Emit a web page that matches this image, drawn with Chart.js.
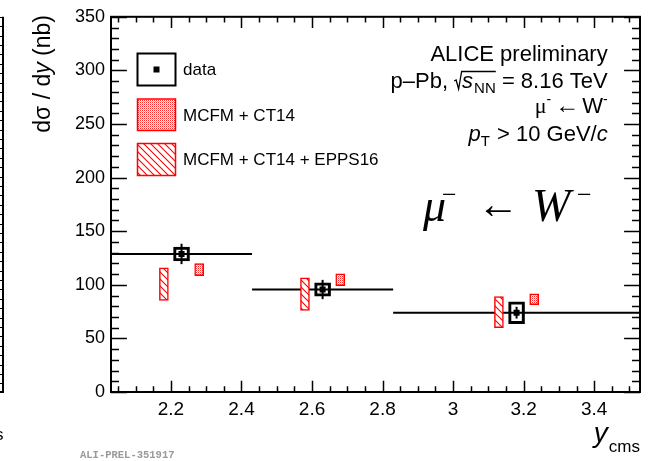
<!DOCTYPE html>
<html>
<head>
<meta charset="utf-8">
<title>W- to mu- production cross section vs rapidity</title>
<script src="https://cdn.jsdelivr.net/npm/chart.js@4.4.1/dist/chart.umd.min.js"></script>
<style>
  html, body { margin: 0; padding: 0; background: #ffffff; }
  #box { position: relative; width: 657px; height: 461px; }
</style>
</head>
<body>
<div id="box"><canvas id="chart"></canvas></div>
<script>
// Rapidity bins (y_cms) and measured dsigma/dy (nb)
const binLow  = [2.03, 2.43, 2.83];
const binHigh = [2.43, 2.83, 3.53];
const dataY    = [2.23, 2.63, 3.18];
const dataVal  = [128.8, 95.6, 74.0];
const dataStat = [9.5, 9.0, 5.5];
const dataSyst = [6.5, 6.2, 10.2];

// MCFM + CT14 prediction bands
const ct14Y    = [2.28, 2.68, 3.23];
const ct14Low  = [108.6, 99.3, 81.4];
const ct14High = [119.8, 110.2, 91.6];

// MCFM + CT14 + EPPS16 prediction bands
const eppsY    = [2.18, 2.58, 3.13];
const eppsLow  = [85.4, 76.1, 60.1];
const eppsHigh = [115.8, 106.5, 88.9];

// Axis ticks
const xTicks = [2.2, 2.4, 2.6, 2.8, 3.0, 3.2, 3.4];
const xTickLabels = ['2.2', '2.4', '2.6', '2.8', '3', '3.2', '3.4'];
const yTicks = [0, 50, 100, 150, 200, 250, 300, 350];
const yTickLabels = ['0', '50', '100', '150', '200', '250', '300', '350'];

const SANS = '"Liberation Sans", Arial, Helvetica, sans-serif';
const SERIF = '"Liberation Serif", "Times New Roman", serif';
const RED = '#ff0000';

const canvas = document.getElementById('chart');
const c2d = canvas.getContext('2d');

// Fill patterns: diagonal hatch and fine checker
function makeHatch() {
  const t = document.createElement('canvas');
  t.width = 7; t.height = 7;
  const g = t.getContext('2d');
  g.fillStyle = '#ffffff'; g.fillRect(0, 0, 7, 7);
  g.strokeStyle = RED; g.lineWidth = 1.1;
  g.beginPath();
  g.moveTo(-2, -2); g.lineTo(9, 9);
  g.moveTo(-2, 5); g.lineTo(2, 9);
  g.moveTo(5, -2); g.lineTo(9, 2);
  g.stroke();
  return c2d.createPattern(t, 'repeat');
}
function makeChecker() {
  const t = document.createElement('canvas');
  t.width = 2; t.height = 2;
  const g = t.getContext('2d');
  g.fillStyle = '#ffffff'; g.fillRect(0, 0, 2, 2);
  g.fillStyle = '#ff2a2a'; g.fillRect(0, 0, 1, 1);
  g.fillStyle = '#ffa8a8'; g.fillRect(1, 1, 1, 1);
  return c2d.createPattern(t, 'repeat');
}
const hatch = makeHatch();
const checker = makeChecker();

// Horizontal bin-width lines, broken between bins
const binLines = [];
binLow.forEach((lo, i) => {
  binLines.push({ x: lo, y: dataVal[i] });
  binLines.push({ x: binHigh[i], y: dataVal[i] });
  binLines.push({ x: binHigh[i], y: null });
});

// Text runs with mixed fonts
function runsWidth(ctx, runs) {
  let w = 0;
  runs.forEach(r => { ctx.font = r.font; w += ctx.measureText(r.text).width + (r.gap || 0); });
  return w;
}
function drawRuns(ctx, runs, x, y) {
  runs.forEach(r => {
    ctx.font = r.font;
    ctx.fillText(r.text, x + (r.dx || 0), y + (r.dy || 0));
    x += ctx.measureText(r.text).width + (r.gap || 0);
  });
  return x;
}

const rootStyle = {
  id: 'rootStyle',
  afterDatasetsDraw(chart) {
    const { ctx, scales: { x, y } } = chart;
    ctx.save();
    ctx.strokeStyle = '#000';
    ctx.lineWidth = 2;
    dataY.forEach((v, i) => {
      const px = x.getPixelForValue(v);
      ctx.beginPath();
      ctx.moveTo(px, y.getPixelForValue(dataVal[i] - dataStat[i]));
      ctx.lineTo(px, y.getPixelForValue(dataVal[i] + dataStat[i]));
      ctx.stroke();
    });
    ctx.restore();
  },
  afterDraw(chart) {
    const { ctx, chartArea: a, scales: { x, y } } = chart;
    ctx.save();
    // frame
    ctx.strokeStyle = '#000';
    ctx.lineWidth = 2;
    ctx.strokeRect(a.left, a.top, a.right - a.left, a.bottom - a.top);
    // inward ticks on all four sides
    ctx.lineWidth = 1.5;
    ctx.beginPath();
    for (let k = 41; k <= 70; k++) {
      const v = k * 0.05;
      if (v < x.min || v > x.max) continue;
      const major = k % 4 === 0;
      const len = major ? 11.3 : 5.7;
      const px = Math.round(x.getPixelForValue(v)) + 0.5;
      ctx.moveTo(px, a.bottom); ctx.lineTo(px, a.bottom - len);
      ctx.moveTo(px, a.top); ctx.lineTo(px, a.top + len);
    }
    for (let v = 0; v <= 350; v += 10) {
      const major = v % 50 === 0;
      const len = major ? 15.9 : 8;
      const py = Math.round(y.getPixelForValue(v)) + 0.5;
      ctx.moveTo(a.left, py); ctx.lineTo(a.left + len, py);
      ctx.moveTo(a.right, py); ctx.lineTo(a.right - len, py);
    }
    ctx.stroke();

    ctx.fillStyle = '#000';
    ctx.textBaseline = 'alphabetic';
    ctx.textAlign = 'left';

    // legend
    ctx.lineWidth = 2;
    ctx.strokeStyle = '#000';
    ctx.strokeRect(137.5, 53.5, 38, 32);
    ctx.fillRect(153.5, 66.5, 6, 6);
    ctx.fillStyle = checker;
    ctx.fillRect(137.5, 99, 38, 31.5);
    ctx.strokeStyle = RED; ctx.lineWidth = 1.5;
    ctx.strokeRect(137.5, 99, 38, 31.5);
    ctx.fillStyle = hatch;
    ctx.fillRect(137.5, 143.5, 38, 32);
    ctx.strokeRect(137.5, 143.5, 38, 32);
    ctx.fillStyle = '#000';
    ctx.font = '17px ' + SANS;
    ctx.textBaseline = 'middle';
    ctx.fillText('data', 183, 70);
    ctx.fillText('MCFM + CT14', 183, 116);
    ctx.fillText('MCFM + CT14 + EPPS16', 183, 160);
    ctx.textBaseline = 'alphabetic';

    // header text block, right aligned
    const R = 607.7;
    const F = '22px ' + SANS, FI = 'italic 22px ' + SANS, FS = '15px ' + SANS;
    ctx.textAlign = 'right';
    ctx.font = F;
    ctx.fillText('ALICE preliminary', R, 61);
    ctx.textAlign = 'left';

    // p-Pb, sqrt(s_NN) = 8.16 TeV
    const l2a = [{ text: 'p\u2013Pb, ', font: F }];
    const l2b = [{ text: 's', font: FI, gap: 1 }, { text: 'NN', font: FS, dy: 5 }];
    const l2c = [{ text: ' = 8.16 TeV', font: F }];
    const radW = 8;
    const w2 = runsWidth(ctx, l2a) + radW + runsWidth(ctx, l2b) + runsWidth(ctx, l2c);
    let cx = R - w2;
    const b2 = 88;
    cx = drawRuns(ctx, l2a, cx, b2);
    const rx = cx;
    const innerW = runsWidth(ctx, l2b);
    ctx.lineWidth = 1.3; ctx.strokeStyle = '#000';
    ctx.beginPath();
    ctx.moveTo(rx, b2 - 7);
    ctx.lineTo(rx + 2, b2 - 8);
    ctx.lineTo(rx + 4.5, b2 + 1);
    ctx.lineTo(rx + 7.5, b2 - 16.5);
    ctx.lineTo(rx + radW + innerW, b2 - 16.5);
    ctx.stroke();
    cx = drawRuns(ctx, l2b, rx + radW, b2);
    drawRuns(ctx, l2c, cx, b2);

    // mu- <- W-
    const l3 = [
      { text: '\u03bc', font: '22px ' + SERIF },
      { text: '-', font: '14px ' + SANS, dy: -9, gap: 4 },
      { text: '\u2190', font: '24px ' + SERIF, gap: 3 },
      { text: 'W', font: '22px ' + SANS },
      { text: '-', font: '14px ' + SANS, dy: -9 }
    ];
    drawRuns(ctx, l3, R - runsWidth(ctx, l3), 113);

    // p_T > 10 GeV/c
    const l4 = [
      { text: 'p', font: FI },
      { text: 'T', font: FS, dy: 5, gap: 1 },
      { text: ' > 10 GeV/', font: F },
      { text: 'c', font: FI }
    ];
    drawRuns(ctx, l4, R - runsWidth(ctx, l4), 141);

    // large process label
    const bigY = 221;
    ctx.font = 'italic 46px ' + SERIF;
    ctx.fillText('\u03bc', 423, bigY);
    ctx.font = '26px ' + SERIF;
    ctx.fillText('\u2212', 442, bigY - 18);
    ctx.font = '42px ' + SERIF;
    ctx.fillText('\u2190', 477, bigY - 3);
    ctx.font = 'italic 46px ' + SERIF;
    ctx.fillText('W', 532, bigY);
    ctx.font = '26px ' + SERIF;
    ctx.fillText('\u2212', 577, bigY - 18);

    // y axis title (rotated)
    const FY = '23px ' + SANS, FYI = 'italic 23px ' + SANS;
    const yt = [
      { text: 'd\u03c3 / d', font: FY },
      { text: 'y', font: FYI },
      { text: ' (nb)', font: FY }
    ];
    ctx.save();
    ctx.translate(50, 15);
    ctx.rotate(-Math.PI / 2);
    drawRuns(ctx, yt, -runsWidth(ctx, yt), 0);
    ctx.restore();

    // x axis title
    const xt = [
      { text: 'y', font: 'italic 28px ' + SANS, gap: 1 },
      { text: 'cms', font: '17px ' + SANS, dy: 10 }
    ];
    drawRuns(ctx, xt, 640 - runsWidth(ctx, xt), 442);

    // preliminary figure tag
    ctx.fillStyle = '#9a9a9a';
    ctx.font = 'bold 10.5px "Liberation Mono", "DejaVu Sans Mono", monospace';
    ctx.fillText('ALI-PREL-351917', 80, 458);

    // edge of the neighbouring panel
    ctx.strokeStyle = '#000'; ctx.fillStyle = '#000';
    ctx.lineWidth = 2;
    ctx.beginPath();
    ctx.moveTo(3, a.top); ctx.lineTo(3, a.bottom); ctx.lineTo(-2, a.bottom);
    ctx.stroke();
    ctx.lineWidth = 1;
    ctx.beginPath();
    for (let py = a.top; py <= a.bottom; py += 9.4) {
      ctx.moveTo(3, Math.round(py) + 0.5); ctx.lineTo(0, Math.round(py) + 0.5);
    }
    ctx.stroke();
    ctx.font = '17px ' + SANS;
    ctx.fillText('s', -5, 440);
    ctx.restore();
  }
};

new Chart(canvas, {
  type: 'bar',
  data: {
    datasets: [
      {
        type: 'scatter',
        label: 'data',
        data: dataY.map((v, i) => ({ x: v, y: dataVal[i] })),
        pointStyle: 'rect',
        pointRadius: 4.3,
        backgroundColor: '#000',
        borderColor: '#000',
        borderWidth: 0,
        order: 0
      },
      {
        type: 'bar',
        label: 'data syst.',
        data: dataY.map((v, i) => ({ x: v, y: [dataVal[i] - dataSyst[i], dataVal[i] + dataSyst[i]] })),
        backgroundColor: 'rgba(0,0,0,0)',
        borderColor: '#000',
        borderWidth: 2.4,
        borderSkipped: false,
        barThickness: 16,
        grouped: false,
        order: 1
      },
      {
        type: 'bar',
        label: 'MCFM + CT14',
        data: ct14Y.map((v, i) => ({ x: v, y: [ct14Low[i], ct14High[i]] })),
        backgroundColor: checker,
        borderColor: RED,
        borderWidth: 1.5,
        borderSkipped: false,
        barThickness: 9,
        grouped: false,
        order: 2
      },
      {
        type: 'bar',
        label: 'MCFM + CT14 + EPPS16',
        data: eppsY.map((v, i) => ({ x: v, y: [eppsLow[i], eppsHigh[i]] })),
        backgroundColor: hatch,
        borderColor: RED,
        borderWidth: 1.5,
        borderSkipped: false,
        barThickness: 9,
        grouped: false,
        order: 3
      },
      {
        type: 'line',
        label: 'bin width',
        data: binLines,
        borderColor: '#000',
        borderWidth: 2,
        pointRadius: 0,
        spanGaps: false,
        order: 4
      }
    ]
  },
  options: {
    responsive: true,
    maintainAspectRatio: false,
    animation: false,
    devicePixelRatio: 1,
    layout: { padding: { left: 0, right: 17, top: 15, bottom: 0 } },
    plugins: { legend: { display: false }, tooltip: { enabled: false } },
    scales: {
      x: {
        type: 'linear',
        min: 2.03,
        max: 3.53,
        offset: false,
        grid: { display: false, drawTicks: false },
        border: { display: false },
        afterBuildTicks: s => { s.ticks = xTicks.map(v => ({ value: v })); },
        afterFit: s => { s.height = 69; },
        ticks: {
          font: { family: SANS, size: 19 },
          color: '#000',
          padding: 6,
          maxRotation: 0,
          autoSkip: false,
          callback: (v, i) => xTickLabels[i]
        }
      },
      y: {
        type: 'linear',
        min: 0,
        max: 350,
        grid: { display: false, drawTicks: false },
        border: { display: false },
        afterBuildTicks: s => { s.ticks = yTicks.map(v => ({ value: v })); },
        afterFit: s => { s.width = 111; },
        ticks: {
          font: { family: SANS, size: 18 },
          color: '#000',
          padding: 6,
          autoSkip: false,
          callback: (v, i) => yTickLabels[i]
        }
      }
    }
  },
  plugins: [rootStyle]
});
</script>
</body>
</html>
